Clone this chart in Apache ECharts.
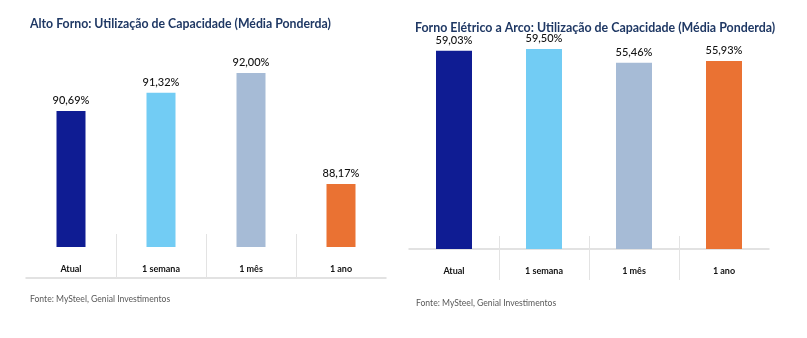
<!DOCTYPE html>
<html>
<head>
<meta charset="utf-8">
<script src="https://cdn.jsdelivr.net/npm/echarts@6/dist/echarts.min.js"></script>
<style>
  html, body { margin: 0; padding: 0; background: #ffffff; }
  #chart { width: 807px; height: 338px; }
</style>
</head>
<body>
<div id="chart"></div>
<script>
// Capacity utilisation, weighted average
const categories = ['Atual', '1 semana', '1 mês', '1 ano'];
const altoFornoValues = [90.69, 91.32, 92.00, 88.17];
const arcoValues = [59.03, 59.50, 55.46, 55.93];
const barColors = ['#0F1C93', '#72CCF4', '#A6BBD6', '#EA7233'];

const titleLeft = 'Alto Forno: Utilização de Capacidade (Média Ponderda)';
const titleRight = 'Forno Elétrico a Arco: Utilização de Capacidade (Média Ponderda)';
const sourceText = 'Fonte: MySteel, Genial Investimentos';

const FONT = 'Lato';

// inner boundaries between category bands (1 .. n-1)
const innerBoundaries = categories.slice(1).map((_, i) => i + 1);

function fmt(v) {
  return v.toFixed(2).replace('.', ',') + '%';
}

function catAxis(gridIndex) {
  return {
    type: 'category',
    gridIndex: gridIndex,
    data: categories,
    position: 'bottom',
    offset: 31,
    axisLine: { show: true, lineStyle: { color: '#D9D9D9', width: 1.5 } },
    axisTick: { show: false },
    axisLabel: {
      inside: true, margin: 4, interval: 0,
      fontFamily: FONT, fontSize: 9, fontWeight: 'bold', color: '#111111'
    },
    splitLine: { show: false }
  };
}

// helper axis that only draws the separators between the category labels
function separatorAxis(gridIndex) {
  return {
    type: 'value',
    gridIndex: gridIndex,
    min: 0,
    max: categories.length,
    position: 'bottom',
    offset: 31,
    axisLine: { show: false },
    axisTick: {
      show: true, inside: true, length: 44,
      customValues: innerBoundaries,
      lineStyle: { color: '#E3E3E3', width: 1 }
    },
    axisLabel: { show: false },
    splitLine: { show: false }
  };
}

function valAxis(gridIndex, min, max) {
  return {
    type: 'value', gridIndex: gridIndex, min: min, max: max,
    show: false, splitLine: { show: false }
  };
}

function barSeries(axisIndex, values, width) {
  return {
    type: 'bar',
    xAxisIndex: axisIndex,
    yAxisIndex: axisIndex,
    barWidth: width,
    data: values.map((v, i) => ({ value: v, itemStyle: { color: barColors[i] } })),
    label: {
      show: true, position: 'top', distance: 5,
      formatter: p => fmt(p.value),
      fontFamily: FONT, fontSize: 11, fontWeight: 500, color: '#111111'
    },
    silent: true
  };
}

const chart = echarts.init(document.getElementById('chart'), null, { renderer: 'canvas' });
chart.setOption({
  backgroundColor: '#ffffff',
  animation: false,
  title: [
    { text: titleLeft, left: 25, top: 13,
      textStyle: { fontFamily: FONT, fontSize: 12.3, fontWeight: 'bold', color: '#1F3864' } },
    { text: titleRight, left: 410, top: 17,
      textStyle: { fontFamily: FONT, fontSize: 12.4, fontWeight: 'bold', color: '#1F3864' } },
    { text: sourceText, left: 25, top: 290,
      textStyle: { fontFamily: FONT, fontSize: 8.6, fontWeight: 'normal', color: '#595959' } },
    { text: sourceText, left: 411, top: 294,
      textStyle: { fontFamily: FONT, fontSize: 8.6, fontWeight: 'normal', color: '#595959' } }
  ],
  grid: [
    { left: 26, right: 421, top: 44, bottom: 91 },
    { left: 409, right: 38, top: 47.4, bottom: 89 }
  ],
  xAxis: [catAxis(0), catAxis(1), separatorAxis(0), separatorAxis(1)],
  yAxis: [valAxis(0, 86, 93), valAxis(1, 0, 60)],
  series: [
    barSeries(0, altoFornoValues, 29),
    barSeries(1, arcoValues, 36)
  ]
});
</script>
</body>
</html>
